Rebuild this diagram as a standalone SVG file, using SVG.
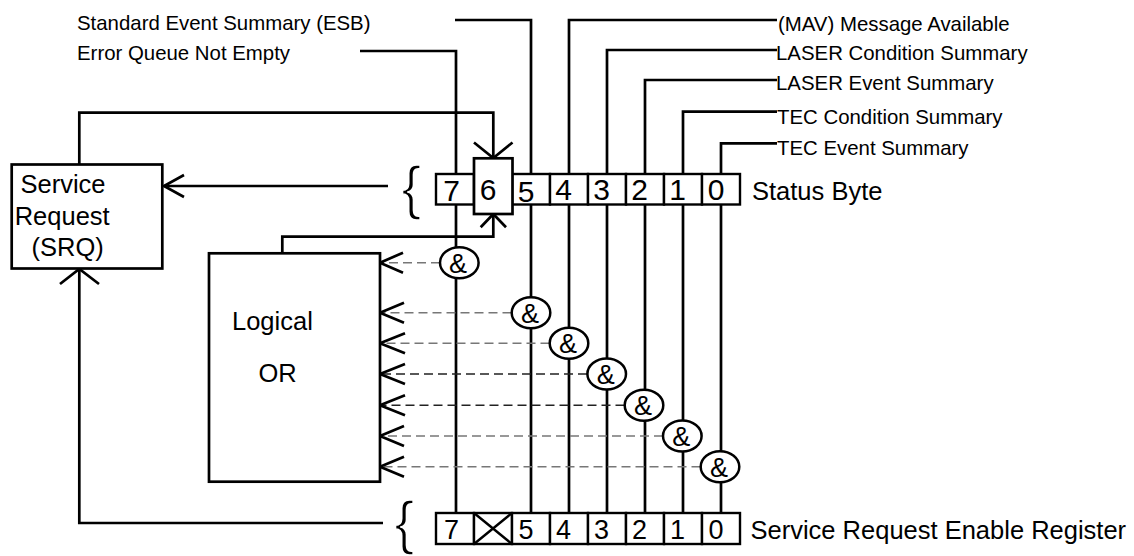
<svg xmlns="http://www.w3.org/2000/svg" width="1134" height="556" viewBox="0 0 1134 556">
<style>
text{font-family:"Liberation Sans",Arial,sans-serif;fill:#000}
.ln{fill:none;stroke:#000;stroke-width:2.7}
.ah{fill:none;stroke:#000;stroke-width:2.7}
.box{fill:#fff;stroke:#000;stroke-width:2.7}
.cell{fill:#fff;stroke:#000;stroke-width:2.4}
.dash{fill:none;stroke:#777;stroke-width:1.4;stroke-dasharray:9 5}
.dashk{fill:none;stroke:#222;stroke-width:1.4;stroke-dasharray:9 5}
.gate{fill:#fff;stroke:#000;stroke-width:2.5}
.lbl{font-size:20.4px}
.big{font-size:25.5px}
.dig{font-size:30px;text-anchor:middle}
.dig2{font-size:27px;text-anchor:middle}
.amp{font-size:27px;text-anchor:middle}
.brace{font-size:59px;stroke:#fff;stroke-width:1.6}
</style>
<rect width="1134" height="556" fill="#fff"/>
<g id="connectors">
  <path class="ln" d="M360 51 H456 V174 M456 204.5 V513"/>
  <path class="ln" d="M455 20 H531 V174 M531 204.5 V513"/>
  <path class="ln" d="M777 20 H569 V174 M569 204.5 V513"/>
  <path class="ln" d="M777 50 H607 V174 M607 204.5 V513"/>
  <path class="ln" d="M777 80 H645 V174 M645 204.5 V513"/>
  <path class="ln" d="M777 111.7 H683 V174 M683 204.5 V513"/>
  <path class="ln" d="M777 143.3 H721 V174 M721 204.5 V513"/>
  <path class="ln" d="M388 186 H164"/>
  <polyline class="ah" points="184,175 164,186 184,197"/>
  <path class="ln" d="M383 523 H79.3 V269"/>
  <polyline class="ah" points="60,284 79.3,269 99,284"/>
  <path class="ln" d="M79.3 164.5 V112.7 H493.3 V158"/>
  <polyline class="ah" points="474,142.5 493.3,158 512.5,142.5"/>
  <path class="ln" d="M282.3 253.3 V236.7 H493.3 V214"/>
  <polyline class="ah" points="480.7,227.3 493.3,214 506,227.3"/>
  <path class="dash" d="M440 262.7 H381"/>
  <polyline class="ah" points="403,252.7 380,262.7 403,272.7"/>
  <path class="dash" d="M511.5 312.7 H381"/>
  <polyline class="ah" points="404,302.7 380,312.7 404,322.7"/>
  <path class="dash" d="M549.5 343.3 H381"/>
  <polyline class="ah" points="405,333.3 380,343.3 405,353.3"/>
  <path class="dashk" d="M587 374 H381"/>
  <polyline class="ah" points="405,364 380,374 405,384"/>
  <path class="dashk" d="M624.5 405.3 H377"/>
  <polyline class="ah" points="405,395.3 380,405.3 405,415.3"/>
  <path class="dash" d="M663 436 H381"/>
  <polyline class="ah" points="404,426 380,436 404,446"/>
  <path class="dash" d="M700.5 466.7 H381"/>
  <polyline class="ah" points="404,456.7 380,466.7 404,476.7"/>
</g>
<g id="labels">
  <text class="lbl" x="77" y="29.5">Standard Event Summary (ESB)</text>
  <text class="lbl" x="77" y="60">Error Queue Not Empty</text>
  <text class="lbl" x="778" y="31">(MAV) Message Available</text>
  <text class="lbl" x="776" y="60">LASER Condition Summary</text>
  <text class="lbl" x="776" y="90">LASER Event Summary</text>
  <text class="lbl" x="777" y="124">TEC Condition Summary</text>
  <text class="lbl" x="777" y="155">TEC Event Summary</text>
</g>
<g id="srq">
  <rect class="box" x="11.7" y="164.5" width="150.6" height="104"/>
  <text class="big" x="20.5" y="193.3">Service</text>
  <text class="big" x="14.7" y="225">Request</text>
  <text class="big" x="31.6" y="256">(SRQ)</text>
</g>
<g id="logical-or">
  <rect class="box" x="209" y="253.3" width="171" height="228.4"/>
  <text class="big" x="232" y="330">Logical</text>
  <text class="big" x="258.4" y="382">OR</text>
</g>
<g id="status-byte">
  <text class="brace" x="401.5" y="207.5">{</text>
  <rect class="cell" x="436" y="174" width="38" height="30.5"/>
  <rect class="cell" x="512" y="174" width="38" height="30.5"/>
  <rect class="cell" x="550" y="174" width="38" height="30.5"/>
  <rect class="cell" x="588" y="174" width="38" height="30.5"/>
  <rect class="cell" x="626" y="174" width="38" height="30.5"/>
  <rect class="cell" x="664" y="174" width="38" height="30.5"/>
  <rect class="cell" x="702" y="174" width="38" height="30.5"/>
  <rect class="box" x="474" y="158.3" width="38.5" height="55.7"/>
  <text class="dig" x="451.5" y="200.5">7</text>
  <text class="dig" x="488" y="200">6</text>
  <text class="dig" x="526" y="201.5">5</text>
  <text class="dig" x="563.5" y="200">4</text>
  <text class="dig" x="601.5" y="200">3</text>
  <text class="dig" x="639.5" y="200">2</text>
  <text class="dig" x="677.5" y="200">1</text>
  <text class="dig" x="716" y="200">0</text>
  <text class="big" x="752" y="199.5">Status Byte</text>
</g>
<g id="srer">
  <text class="brace" x="394.5" y="542.5">{</text>
  <rect class="cell" x="436" y="513" width="38" height="31"/>
  <rect class="cell" x="474" y="513" width="38" height="31"/>
  <path class="cell" d="M474 513 L512 544 M512 513 L474 544"/>
  <rect class="cell" x="512" y="513" width="38" height="31"/>
  <rect class="cell" x="550" y="513" width="38" height="31"/>
  <rect class="cell" x="588" y="513" width="38" height="31"/>
  <rect class="cell" x="626" y="513" width="38" height="31"/>
  <rect class="cell" x="664" y="513" width="38" height="31"/>
  <rect class="cell" x="702" y="513" width="38" height="31"/>
  <text class="dig2" x="451.5" y="538.5">7</text>
  <text class="dig2" x="526" y="538.5">5</text>
  <text class="dig2" x="563.5" y="538.5">4</text>
  <text class="dig2" x="601.5" y="538.5">3</text>
  <text class="dig2" x="639.5" y="538.5">2</text>
  <text class="dig2" x="677.5" y="538.5">1</text>
  <text class="dig2" x="716" y="538.5">0</text>
  <text class="big" x="750.5" y="538.5">Service Request Enable Register</text>
</g>
<g id="gate-7"><ellipse class="gate" cx="459.3" cy="262.7" rx="19.3" ry="15.5"/><text class="amp" x="458" y="272.5">&amp;</text></g>
<g id="gate-5"><ellipse class="gate" cx="531" cy="312.7" rx="19.3" ry="15.5"/><text class="amp" x="530" y="322.5">&amp;</text></g>
<g id="gate-4"><ellipse class="gate" cx="569" cy="343.3" rx="19.3" ry="15.5"/><text class="amp" x="568" y="353.1">&amp;</text></g>
<g id="gate-3"><ellipse class="gate" cx="606.7" cy="374" rx="19.3" ry="15.5"/><text class="amp" x="605.7" y="383.8">&amp;</text></g>
<g id="gate-2"><ellipse class="gate" cx="644" cy="405.3" rx="19.3" ry="15.5"/><text class="amp" x="643" y="415.1">&amp;</text></g>
<g id="gate-1"><ellipse class="gate" cx="682.3" cy="436" rx="19.3" ry="15.5"/><text class="amp" x="681.3" y="445.8">&amp;</text></g>
<g id="gate-0"><ellipse class="gate" cx="720" cy="466.7" rx="19.3" ry="15.5"/><text class="amp" x="719" y="476.5">&amp;</text></g>
</svg>
